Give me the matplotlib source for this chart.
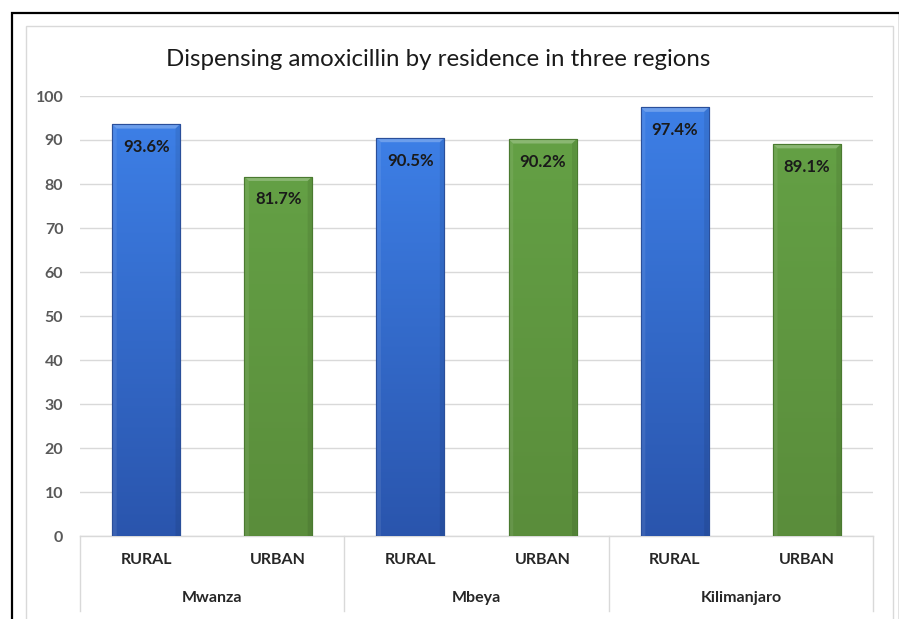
import matplotlib
matplotlib.use("Agg")
import matplotlib.pyplot as plt
import numpy as np
from matplotlib.patches import Rectangle, Polygon
from matplotlib.colors import LinearSegmentedColormap

regions = ["Mwanza", "Mbeya", "Kilimanjaro"]
residence = ["RURAL", "URBAN"]
values = [93.6, 81.7, 90.5, 90.2, 97.4, 89.1]
labels = ["93.6%", "81.7%", "90.5%", "90.2%", "97.4%", "89.1%"]
yticks = [0, 10, 20, 30, 40, 50, 60, 70, 80, 90, 100]
title = "Dispensing amoxicillin by residence in three regions"

FONT = ["Lato", "DejaVu Sans"]
plt.rcParams["font.family"] = FONT

W, H = 899, 619
fig = plt.figure(figsize=(W / 100, H / 100), dpi=100)
fig.patch.set_facecolor("white")

def fx(px):
    return px / W

def fy(py):
    return 1 - py / H

# outer black frame
fig.add_artist(Rectangle((fx(12), fy(640)), fx(900) - fx(12), fy(13) - fy(640),
                         transform=fig.transFigure, fill=False, edgecolor="black", lw=1.6))
# inner light chart frame
fig.add_artist(Rectangle((fx(26), fy(640)), fx(893) - fx(26), fy(26) - fy(640),
                         transform=fig.transFigure, fill=False, edgecolor="#d9d9d9", lw=1.0))

ax = fig.add_axes([fx(80), fy(536), fx(873) - fx(80), fy(96) - fy(536)])
ax.set_xlim(-0.5, 5.5)
ax.set_ylim(0, 100)
ax.set_facecolor("none")
for s in ax.spines.values():
    s.set_visible(False)
ax.set_yticks(yticks)
ax.set_yticklabels([str(t) for t in yticks], color="#595959", fontsize=11.5, fontweight="bold")
ax.tick_params(axis="y", length=0, pad=12)
ax.tick_params(axis="x", length=0)
ax.set_xticks([])
ax.grid(axis="y", color="#d9d9d9", lw=1.0)
ax.set_axisbelow(True)

x = np.arange(len(values))
colors_top = {"RURAL": "#3d7fe6", "URBAN": "#64a045"}
colors_bot = {"RURAL": "#2a55ad", "URBAN": "#5a8d3b"}
edges = {"RURAL": "#2a4f9a", "URBAN": "#4a7a30"}
cats = [residence[i % 2] for i in range(len(values))]
bars = ax.bar(x, values, width=0.515, color=[colors_bot[c] for c in cats],
              edgecolor=[edges[c] for c in cats], lw=0.8, zorder=2)

for b, c in zip(bars, cats):
    cmap = LinearSegmentedColormap.from_list("g", [colors_bot[c], colors_top[c]])
    grad = np.linspace(0, 1, 256).reshape(-1, 1)
    im = ax.imshow(grad, cmap=cmap, aspect="auto", origin="lower",
                   extent=[b.get_x(), b.get_x() + b.get_width(), 0, b.get_height()], zorder=2.5)
    im.set_clip_path(b)
    x0, x1, h = b.get_x(), b.get_x() + b.get_width(), b.get_height()
    dx, dy = 0.035, 1.0
    # bevel: top lighter, sides slightly darker
    ax.add_patch(Polygon([[x0, h], [x1, h], [x1 - dx, h - dy], [x0 + dx, h - dy]],
                         closed=True, facecolor="white", alpha=0.25, lw=0, zorder=3))
    ax.add_patch(Polygon([[x0, h], [x0 + dx, h - dy], [x0 + dx, 0], [x0, 0]],
                         closed=True, facecolor="white", alpha=0.08, lw=0, zorder=3))
    ax.add_patch(Polygon([[x1, h], [x1 - dx, h - dy], [x1 - dx, 0], [x1, 0]],
                         closed=True, facecolor="black", alpha=0.08, lw=0, zorder=3))
    ax.add_patch(Rectangle((x0, 0), b.get_width(), h,
                           facecolor="none", edgecolor=edges[c], lw=0.8, zorder=3.2))

for xi, v, lab in zip(x, values, labels):
    ax.text(xi, v - 5.2, lab, ha="center", va="center", fontsize=12,
            fontweight="bold", color="#1a1a1a", zorder=4)

ax.set_xlim(-0.5, 5.5)
ax.set_ylim(0, 100)

# category axis labels
for xi, c in zip(x, cats):
    ax.text(xi, -5.5, c, ha="center", va="center", fontsize=11.5, fontweight="bold",
            color="#262626", clip_on=False)
for gi, r in enumerate(regions):
    ax.text(gi * 2 + 0.5, -14.1, r, ha="center", va="center", fontsize=11.5, fontweight="bold",
            color="#262626", clip_on=False)
# group separators
for sep in [-0.5, 1.5, 3.5, 5.5]:
    ax.plot([sep, sep], [0, -17], color="#d9d9d9", lw=1.0, clip_on=False)
ax.plot([-0.5, 5.5], [0, 0], color="#d9d9d9", lw=1.0, clip_on=False, zorder=1)

fig.text(fx(438), fy(59), title, ha="center", va="center", fontsize=17.3, color="#1a1a1a")

fig.savefig("out.png", dpi=100, facecolor="white")
